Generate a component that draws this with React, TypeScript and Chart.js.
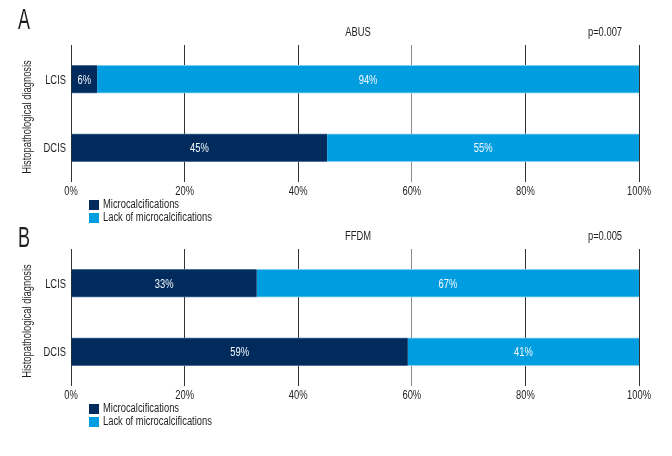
import React, { useEffect, useRef } from "react";
import { Chart, registerables } from "chart.js";

Chart.register(...registerables);

const categories = ["LCIS", "DCIS"];
const seriesNames = ["Microcalcifications", "Lack of microcalcifications"];
const xTicks = ["0%", "20%", "40%", "60%", "80%", "100%"];
const yTitle = "Histopathological diagnosis";

// Panel A (ABUS)
const abusMicro = [4.6, 45.1];
const abusLack = [95.4, 54.9];
const abusMicroLabels = ["6%", "45%"];
const abusLackLabels = ["94%", "55%"];

// Panel B (FFDM)
const ffdmMicro = [32.7, 59.3];
const ffdmLack = [67.3, 40.7];
const ffdmMicroLabels = ["33%", "59%"];
const ffdmLackLabels = ["67%", "41%"];

const DARK = "#002b5c";
const LIGHT = "#009ee0";
const FONT = "'Liberation Sans', Arial, sans-serif";
const TEXT = "#1f1f1f";
const SX = 0.75;

type PanelProps = {
  top: number;
  letter: string;
  letterTop: number;
  title: string;
  pval: string;
  micro: number[];
  lack: number[];
  microLabels: string[];
  lackLabels: string[];
};

const W = 672;
const H = 228;

function drawText(
  ctx: CanvasRenderingContext2D,
  text: string,
  x: number,
  y: number,
  align: "left" | "center" | "right",
  size: number,
  color: string,
  sx: number = SX,
  rot: number = 0
) {
  ctx.save();
  ctx.translate(x, y);
  if (rot) ctx.rotate(rot);
  ctx.scale(sx, 1);
  ctx.font = `${size}px ${FONT}`;
  ctx.fillStyle = color;
  ctx.textAlign = align;
  ctx.textBaseline = "middle";
  ctx.fillText(text, 0, 0);
  ctx.restore();
}

function Panel(p: PanelProps) {
  const ref = useRef<HTMLCanvasElement | null>(null);
  useEffect(() => {
    if (!ref.current) return;
    const labelsBy = [p.microLabels, p.lackLabels];
    const textPlugin = {
      id: "panelText",
      afterDraw(chart: any) {
        const ctx = chart.ctx;
        drawText(ctx, p.letter, 18, p.letterTop + 11, "left", 29, TEXT, 0.62);
        drawText(ctx, p.title, 358, 33, "center", 12.5, TEXT);
        drawText(ctx, p.pval, 605, 33, "center", 12.5, TEXT);
        // y title
        drawText(ctx, yTitle, 28, 117, "center", 12.5, TEXT, SX, -Math.PI / 2);
        // y ticks
        const ys = chart.scales.y;
        categories.forEach((c, i) => {
          drawText(ctx, c, 66, ys.getPixelForValue(i) + 1, "right", 12.5, TEXT);
        });
        // x ticks
        const xs = chart.scales.x;
        xTicks.forEach((t, i) => {
          drawText(ctx, t, xs.getPixelForValue(i * 20), 192, "center", 12.5, TEXT);
        });
        // legend
        const colors = [DARK, LIGHT];
        seriesNames.forEach((n, i) => {
          const cy = 205 + i * 13;
          ctx.save();
          ctx.fillStyle = colors[i];
          ctx.fillRect(89, cy - 5, 10, 10);
          ctx.restore();
          drawText(ctx, n, 103, cy, "left", 12.5, TEXT);
        });
      },
      afterDatasetsDraw(chart: any) {
        const ctx = chart.ctx;
        chart.data.datasets.forEach((_: any, di: number) => {
          const meta = chart.getDatasetMeta(di);
          meta.data.forEach((el: any, i: number) => {
            const c = el.getCenterPoint();
            drawText(ctx, labelsBy[di][i], c.x, c.y + 1, "center", 12.5, "#f4f8fc");
          });
        });
      },
    };
    const chart = new Chart(ref.current, {
      type: "bar",
      data: {
        labels: categories,
        datasets: [
          {
            label: seriesNames[0],
            data: p.micro,
            backgroundColor: DARK,
            borderColor: "#4a6f99",
            borderWidth: { top: 1, bottom: 1, left: 0, right: 0 },
            borderSkipped: false,
            barThickness: 28,
          },
          {
            label: seriesNames[1],
            data: p.lack,
            backgroundColor: LIGHT,
            borderColor: "#7fcdf0",
            borderWidth: { top: 1, bottom: 1, left: 0, right: 0 },
            borderSkipped: false,
            barThickness: 28,
          },
        ],
      },
      options: {
        indexAxis: "y",
        responsive: false,
        animation: false,
        layout: { padding: { left: 0, right: 33, top: 45, bottom: H - 182 - 20 } },
        plugins: { legend: { display: false }, tooltip: { enabled: false }, title: { display: false } },
        scales: {
          x: {
            stacked: true,
            min: 0,
            max: 100,
            afterFit: (s: any) => { s.height = 20; },
            ticks: { display: false, stepSize: 20 },
            grid: {
              color: (c: any) => (c.index === 3 ? "#8c8c8c" : "#333333"),
              lineWidth: 1,
              drawTicks: false,
            },
            border: { display: false },
          },
          y: {
            stacked: true,
            afterFit: (s: any) => { s.width = 71; },
            ticks: { display: false },
            grid: { display: false, drawTicks: false },
            border: { display: false },
          },
        },
      },
      plugins: [textPlugin],
    } as any);
    return () => chart.destroy();
  }, []);
  return (
    <canvas
      ref={ref}
      width={W}
      height={H}
      style={{ position: "absolute", left: 0, top: p.top, width: W, height: H }}
    />
  );
}

export default function App() {
  return (
    <div style={{ position: "absolute", left: 0, top: 0, width: W, height: 456, background: "#fff" }}>
      <Panel
        top={0}
        letter="A"
        letterTop={10}
        title="ABUS"
        pval="p=0.007"
        micro={abusMicro}
        lack={abusLack}
        microLabels={abusMicroLabels}
        lackLabels={abusLackLabels}
      />
      <Panel
        top={204}
        letter="B"
        letterTop={24}
        title="FFDM"
        pval="p=0.005"
        micro={ffdmMicro}
        lack={ffdmLack}
        microLabels={ffdmMicroLabels}
        lackLabels={ffdmLackLabels}
      />
    </div>
  );
}
